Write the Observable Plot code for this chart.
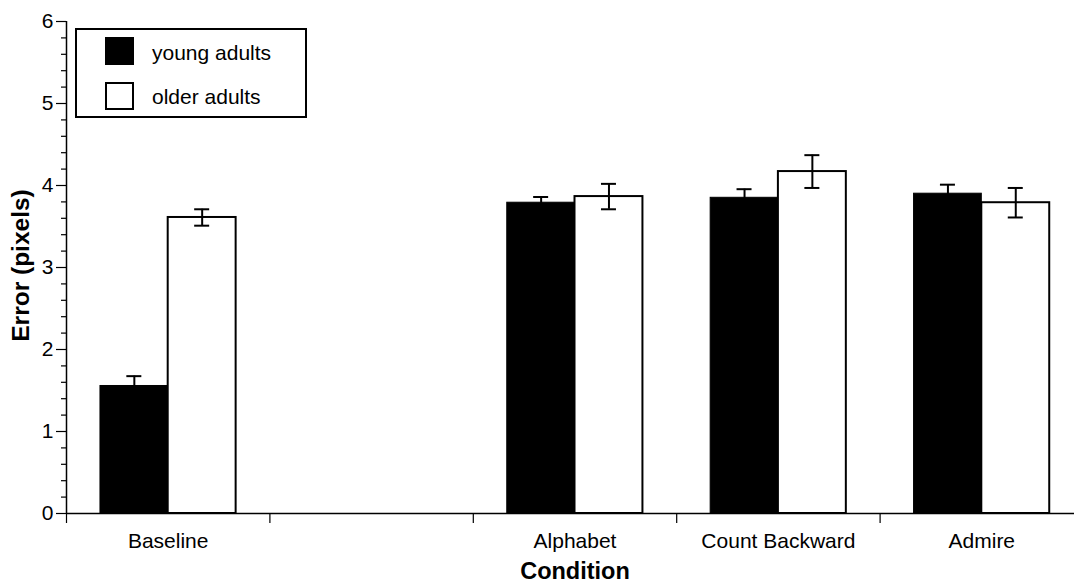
<!DOCTYPE html>
<html>
<head>
<meta charset="utf-8">
<script src="https://cdn.jsdelivr.net/npm/d3@7"></script>
<script src="https://cdn.jsdelivr.net/npm/@observablehq/plot@0.6"></script>
<style>
  html, body { margin: 0; padding: 0; background: #fff; }
  #wrap { position: relative; width: 1074px; height: 583px; font-family: "Liberation Sans", Arial, sans-serif; }
  #legend { position: absolute; left: 75px; top: 28px; width: 228px; height: 86px; border: 2px solid #000; background: #fff; }
  .sw { position: absolute; left: 28px; width: 29px; height: 28px; box-sizing: border-box; }
  .lt { position: absolute; left: 75px; font-size: 21px; line-height: 24px; color: #000; }
</style>
</head>
<body>
<div id="wrap"></div>
<script>
// ---- data ----
const conditions = ["Baseline", "", "Alphabet", "Count Backward", "Admire"];
const groups = ["young adults", "older adults"];
const youngMeans = [1.555, null, 3.79, 3.85, 3.90];
const youngErr   = [0.12,  null, 0.07, 0.105, 0.11];
const olderMeans = [3.61,  null, 3.865, 4.17, 3.79];
const olderErr   = [0.10,  null, 0.155, 0.20, 0.18];
const yMajorTicks = [0, 1, 2, 3, 4, 5, 6];

// ---- layout constants ----
const barStart = 0.167, barMid = 0.5, barEnd = 0.834;

const rows = [];
conditions.forEach((c, i) => {
  if (youngMeans[i] != null) rows.push({i, c, g: 0, group: groups[0], mean: youngMeans[i], err: youngErr[i]});
  if (olderMeans[i] != null) rows.push({i, c, g: 1, group: groups[1], mean: olderMeans[i], err: olderErr[i]});
});
const x1 = d => d.i + (d.g === 0 ? barStart : barMid);
const x2 = d => d.i + (d.g === 0 ? barMid : barEnd);
const xc = d => (x1(d) + x2(d)) / 2;

const minorTicks = d3.range(0, 30.5, 1).map(k => k / 5).filter(v => Math.abs(v - Math.round(v)) > 1e-9);
const labelTicks = conditions.map((c, i) => i + 0.5).filter((v, i) => conditions[i] !== "");

const chart = Plot.plot({
  width: 1074,
  height: 583,
  marginLeft: 66,
  marginRight: 0,
  marginTop: 21,
  marginBottom: 70,
  x: {type: "linear", domain: [0, conditions.length], range: [66, 1083]},
  y: {domain: [0, 6], range: [513, 21]},
  style: {fontFamily: "'Liberation Sans', Arial, sans-serif", fontSize: "21px", color: "#000", background: "#fff"},
  marks: [
    Plot.rectY(rows, {
      x1, x2, y1: 0, y2: "mean",
      fill: d => d.g === 0 ? "#000" : "#fff",
      stroke: "#000",
      strokeWidth: d => d.g === 0 ? 1 : 2
    }),
    Plot.ruleX(rows, {x: xc, y1: d => d.mean - d.err, y2: d => d.mean + d.err, stroke: "#000", strokeWidth: 2}),
    Plot.ruleY(rows, {y: d => d.mean + d.err, x1: xc, x2: xc, insetLeft: -7.5, insetRight: -7.5, stroke: "#000", strokeWidth: 2}),
    Plot.ruleY(rows, {y: d => d.mean - d.err, x1: xc, x2: xc, insetLeft: -7.5, insetRight: -7.5, stroke: "#000", strokeWidth: 2}),
    Plot.ruleY([0], {x1: 0, x2: conditions.length, stroke: "#000", strokeWidth: 1.5}),
    Plot.ruleX([0], {y1: 0, y2: 6, stroke: "#000", strokeWidth: 1.5}),
    Plot.axisY({ticks: minorTicks, tickSize: 5, tickFormat: () => "", label: null, strokeWidth: 1.2}),
    Plot.axisY({ticks: yMajorTicks, tickSize: 10, tickPadding: 3, tickFormat: d3.format("d"), label: null, fontSize: 21, strokeWidth: 1.2}),
    Plot.axisX({ticks: d3.range(0, conditions.length), tickSize: 10, tickFormat: () => "", label: null, strokeWidth: 1.2}),
    Plot.axisX({ticks: labelTicks, tickSize: 0, tickPadding: 20, tickFormat: d => conditions[Math.floor(d)], label: null, fontSize: 21}),
    Plot.text(["Condition"], {x: conditions.length / 2, frameAnchor: "bottom", dy: 58, lineAnchor: "middle", fontWeight: "bold", fontSize: 23.5}),
    Plot.text(["Error (pixels)"], {frameAnchor: "left", dx: -45, dy: -2, rotate: -90, textAnchor: "middle", lineAnchor: "middle", fontWeight: "bold", fontSize: 24.5})
  ]
});
const wrap = document.getElementById("wrap");
wrap.appendChild(chart);

// legend
const legend = document.createElement("div");
legend.id = "legend";
legend.innerHTML = `
  <div class="sw" style="top:7px;background:#000;"></div>
  <div class="lt" style="top:11px;">${groups[0]}</div>
  <div class="sw" style="top:52px;background:#fff;border:2px solid #000;"></div>
  <div class="lt" style="top:55px;">${groups[1]}</div>`;
wrap.appendChild(legend);
</script>
</body>
</html>
